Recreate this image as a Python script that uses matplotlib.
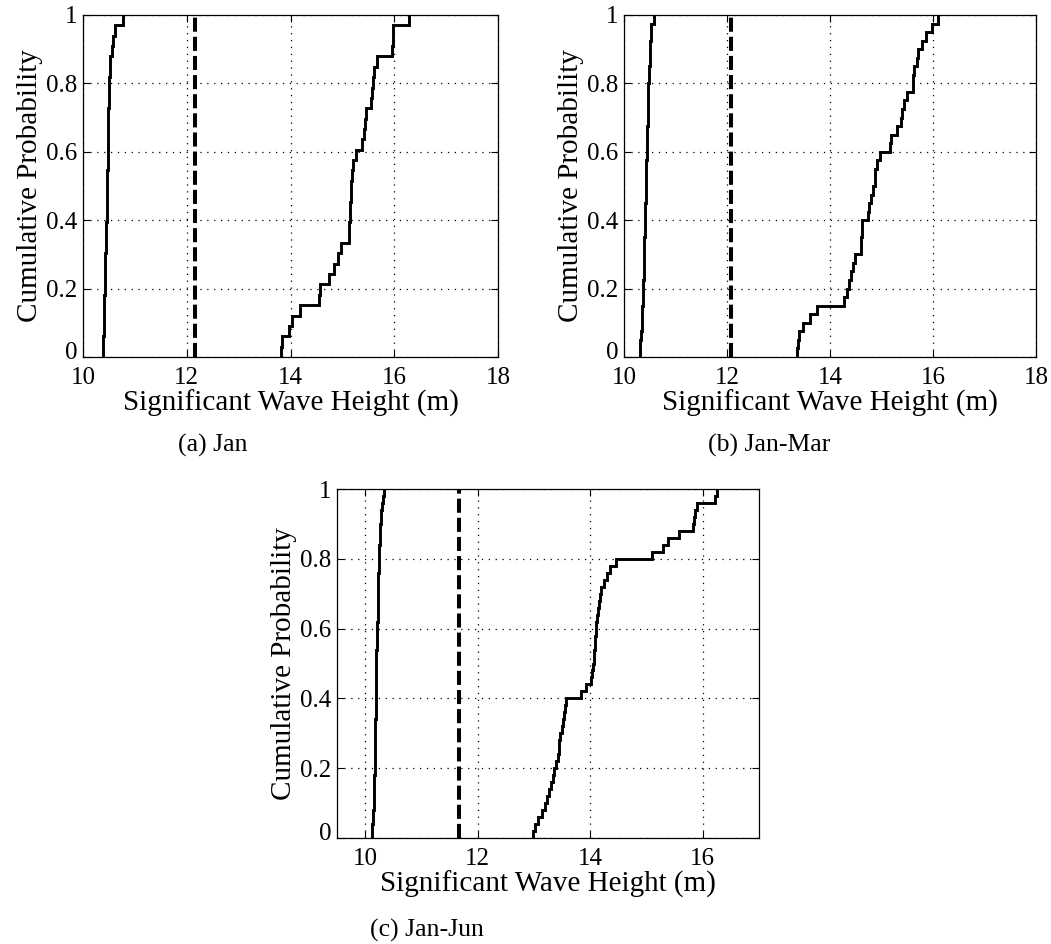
import numpy as np
import matplotlib
matplotlib.use("Agg")
import matplotlib.pyplot as plt
from matplotlib.ticker import FuncFormatter
from matplotlib.transforms import ScaledTranslation

plt.rcParams['font.family'] = ['Liberation Serif', 'DejaVu Serif']
plt.rcParams['mathtext.fontset'] = 'stix'

# ---------------- data (sorted samples) ----------------
jan_low = [10.38, 10.39, 10.40, 10.40, 10.41, 10.41, 10.42, 10.42, 10.43, 10.43,
           10.44, 10.45, 10.45, 10.46, 10.46, 10.47, 10.47, 10.47, 10.48, 10.48,
           10.48, 10.49, 10.49, 10.49, 10.50, 10.50, 10.51, 10.52, 10.53, 10.56,
           10.58, 10.61, 10.77]
jan_high = [13.82, 13.83, 13.97, 14.03, 14.18, 14.55, 14.56, 14.75, 14.83, 14.92,
            14.97, 15.12, 15.13, 15.14, 15.15, 15.16, 15.17, 15.19, 15.20, 15.26,
            15.38, 15.41, 15.44, 15.46, 15.55, 15.57, 15.59, 15.61, 15.67, 15.95,
            15.97, 15.98, 16.29]
jan_threshold = 12.15

janmar_low = [10.31, 10.32, 10.33, 10.34, 10.35, 10.35, 10.36, 10.37, 10.37, 10.38,
              10.38, 10.39, 10.39, 10.39, 10.40, 10.40, 10.41, 10.41, 10.42, 10.42,
              10.43, 10.43, 10.43, 10.44, 10.44, 10.45, 10.45, 10.46, 10.46, 10.46,
              10.47, 10.47, 10.48, 10.49, 10.50, 10.50, 10.51, 10.52, 10.53, 10.58]
janmar_high = [13.36, 13.37, 13.39, 13.47, 13.61, 13.75, 14.27, 14.33, 14.37, 14.40,
               14.44, 14.49, 14.60, 14.61, 14.62, 14.63, 14.73, 14.76, 14.80, 14.84,
               14.87, 14.88, 14.91, 14.98, 15.16, 15.19, 15.30, 15.37, 15.40, 15.44,
               15.50, 15.61, 15.62, 15.63, 15.68, 15.70, 15.79, 15.87, 15.98, 16.09]
janmar_threshold = 12.08

janjun_low = [10.13, 10.13, 10.14, 10.14, 10.15, 10.15, 10.15, 10.16, 10.16, 10.17,
              10.17, 10.17, 10.17, 10.18, 10.18, 10.18, 10.18, 10.19, 10.19, 10.19,
              10.19, 10.19, 10.20, 10.20, 10.20, 10.20, 10.20, 10.21, 10.21, 10.21,
              10.21, 10.22, 10.22, 10.22, 10.22, 10.23, 10.23, 10.23, 10.24, 10.24,
              10.24, 10.25, 10.26, 10.26, 10.27, 10.28, 10.29, 10.30, 10.31, 10.33]
janjun_high = [12.98, 13.02, 13.08, 13.14, 13.19, 13.24, 13.27, 13.30, 13.33, 13.36,
               13.40, 13.42, 13.44, 13.45, 13.47, 13.49, 13.51, 13.53, 13.55, 13.57,
               13.84, 13.93, 14.02, 14.04, 14.05, 14.06, 14.07, 14.08, 14.09, 14.10,
               14.11, 14.12, 14.13, 14.15, 14.17, 14.20, 14.25, 14.30, 14.36, 14.46,
               15.10, 15.29, 15.39, 15.57, 15.82, 15.84, 15.87, 15.89, 16.22, 16.25]
janjun_threshold = 11.66

captions = ["(a) Jan", "(b) Jan-Mar", "(c) Jan-Jun"]
xlabel = "Significant Wave Height (m)"
ylabel = "Cumulative Probability"
yticks = [0, 0.2, 0.4, 0.6, 0.8, 1]

# ---------------- figure ----------------
W, H = 1051, 944
fig = plt.figure(figsize=(W / 100, H / 100), dpi=100)


def px_axes(l, t, r, b):
    return fig.add_axes([l / W, 1 - b / H, (r - l) / W, (b - t) / H])


def ecdf(ax, samples):
    s = np.sort(np.asarray(samples, dtype=float))
    n = len(s)
    x = np.r_[s[0], s]
    y = np.r_[0.0, np.arange(1, n + 1) / n]
    ax.step(x, y, where='post', color='k', lw=2.1, solid_joinstyle='miter')


def style(ax, xlim, xticks):
    ax.set_xlim(*xlim)
    ax.set_ylim(0, 1)
    ax.set_xticks(xticks)
    ax.set_yticks(yticks)
    ax.yaxis.set_major_formatter(FuncFormatter(lambda v, p: f"{v:g}"))
    ax.grid(True, linestyle=(0, (1, 4.5)), color='k', linewidth=0.9)
    ax.tick_params(direction='in', length=5, width=0.8, top=True, right=True,
                   labelsize=18, colors='k')
    ax.tick_params(axis='x', pad=7)
    ax.tick_params(axis='y', pad=4)
    for sp in ax.spines.values():
        sp.set_linewidth(0.9)
    ax.set_xlabel(xlabel, fontsize=21, labelpad=1)
    ax.set_ylabel(ylabel, fontsize=21, labelpad=2)
    # nudge the "0" y tick label up a little (as in the reference)
    lab0 = ax.yaxis.get_major_ticks()[0].label1
    lab0.set_transform(lab0.get_transform() +
                       ScaledTranslation(0, 5 / 72, fig.dpi_scale_trans))


panels = [
    ((83, 15, 498, 357), (10, 18), [10, 12, 14, 16, 18], jan_low, jan_high, jan_threshold),
    ((624, 15, 1036, 357), (10, 18), [10, 12, 14, 16, 18], janmar_low, janmar_high, janmar_threshold),
    ((337, 489, 759, 838), (9.5, 17), [10, 12, 14, 16], janjun_low, janjun_high, janjun_threshold),
]

for rect, xlim, xt, lo, hi, thr in panels:
    ax = px_axes(*rect)
    ecdf(ax, lo)
    ecdf(ax, hi)
    ln = ax.axvline(thr, color='k', lw=2.9)
    ln.set_dashes((3.5, 1.25))
    style(ax, xlim, xt)

cap_pos = [(178, 445), (708, 445), (370, 930)]
for (cx, cy), txt in zip(cap_pos, captions):
    fig.text(cx / W, 1 - cy / H, txt, fontsize=18.5, ha='left', va='center')

fig.savefig("out.png", dpi=100)
